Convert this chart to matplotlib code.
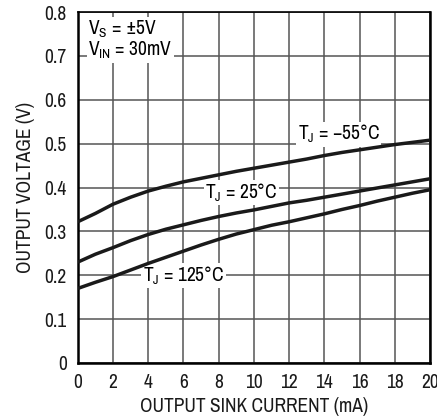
import matplotlib
matplotlib.use("Agg")
import matplotlib.pyplot as plt

# condensed grotesque, close to the datasheet's Helvetica Condensed
FONT = "Archivo Narrow"
plt.rcParams["font.family"] = [FONT, "DejaVu Sans"]
plt.rcParams["mathtext.fontset"] = "custom"
plt.rcParams["mathtext.rm"] = FONT
plt.rcParams["mathtext.it"] = FONT

current_ma = list(range(0, 21))
v_m55 = [0.322, 0.341, 0.362, 0.378, 0.392, 0.403, 0.413, 0.421, 0.429, 0.437, 0.444,
         0.451, 0.458, 0.465, 0.473, 0.480, 0.486, 0.492, 0.498, 0.503, 0.508]
v_25 = [0.230, 0.248, 0.263, 0.279, 0.293, 0.305, 0.315, 0.325, 0.334, 0.342, 0.349,
        0.357, 0.365, 0.371, 0.378, 0.385, 0.392, 0.399, 0.406, 0.413, 0.420]
v_125 = [0.170, 0.184, 0.197, 0.212, 0.227, 0.241, 0.255, 0.269, 0.282, 0.294, 0.304,
         0.314, 0.322, 0.331, 0.340, 0.350, 0.359, 0.369, 0.378, 0.387, 0.395]

x_ticks = [0, 2, 4, 6, 8, 10, 12, 14, 16, 18, 20]
y_ticks = [0, 0.1, 0.2, 0.3, 0.4, 0.5, 0.6, 0.7, 0.8]
y_ticklabels = ["0", "0.1", "0.2", "0.3", "0.4", "0.5", "0.6", "0.7", "0.8"]

fig = plt.figure(figsize=(4.37, 4.17), dpi=100)
ax = fig.add_axes([0.178, 0.1295, 0.806, 0.8415])

for v in (v_m55, v_25, v_125):
    ax.plot(current_ma, v, color="#1a1a1a", lw=2.5, solid_capstyle="butt", zorder=3)

ax.set_xlim(0, 20)
ax.set_ylim(0, 0.8)
ax.set_xticks(x_ticks)
ax.set_yticks(y_ticks)
ax.set_yticklabels(y_ticklabels)
ax.tick_params(length=0, labelsize=14, colors="#1a1a1a")
ax.tick_params(axis="y", pad=8)
ax.tick_params(axis="x", pad=7)
ax.grid(True, color="#555555", lw=1.1)
ax.set_axisbelow(True)
for side in ("left", "bottom", "right"):
    ax.spines[side].set_linewidth(1.8)
ax.spines["top"].set_linewidth(1.2)

ax.set_xlabel("OUTPUT SINK CURRENT (mA)", fontsize=14, labelpad=4, color="#1a1a1a")
ax.set_ylabel("OUTPUT VOLTAGE (V)", fontsize=14, labelpad=7, color="#1a1a1a")

box = dict(facecolor="white", edgecolor="none", pad=1.0)
ax.text(14.8, 0.522, r"T$_\mathregular{J}$ = −55°C", fontsize=14, ha="center", va="center", bbox=box, zorder=2.5)
ax.text(9.3, 0.389, r"T$_\mathregular{J}$ = 25°C", fontsize=14, ha="center", va="center", bbox=box, zorder=2.5)
ax.text(6.0, 0.199, r"T$_\mathregular{J}$ = 125°C", fontsize=14, ha="center", va="center", bbox=box, zorder=2.5)
ax.text(0.6, 0.785, "V$_\\mathregular{S}$ = ±5V\nV$_\\mathregular{IN}$ = 30mV", fontsize=14,
        ha="left", va="top", linespacing=1.0, bbox=box, zorder=2.5)

fig.savefig("out.png", dpi=100)
